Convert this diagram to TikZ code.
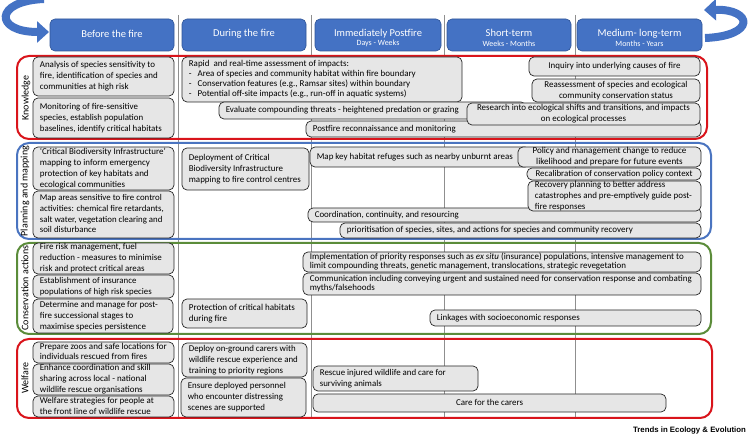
\documentclass[tikz,border=0pt]{standalone}
\usepackage{fontspec}
\usepackage{graphicx}
\setmainfont{Carlito}
\newfontfamily\footfont{Liberation Sans}
\usetikzlibrary{arrows.meta}
\definecolor{hdrblue}{HTML}{4472C4}
\definecolor{hdredge}{HTML}{2F5597}
\definecolor{frred}{HTML}{D9141B}
\definecolor{frblue}{HTML}{4A74C0}
\definecolor{frgreen}{HTML}{5B8C3A}
\definecolor{boxfill}{HTML}{E6E6E6}
\definecolor{sepgray}{HTML}{8F8F8F}
\renewcommand{\arraystretch}{1}
% name, x1, y1, x2, y2, west|center, text, width of the longest line
\newcommand{\bx}[8]{%
 \pgfmathsetmacro{\mybw}{#4-#2}%
 \pgfmathsetmacro{\mybh}{#5-#3}%
 \pgfmathsetmacro{\mycx}{(#2+#4)/2}%
 \pgfmathsetmacro{\mycy}{(#3+#5)/2}%
 \node[box, minimum width=\mybw pt, minimum height=\mybh pt] (#1) at (\mycx,\mycy) {};
 \node[btxt, anchor=#6, al #6] (#1t) at (#1.#6) {\resizebox{#8pt}{!}{\begin{tabular}{@{}\csname tc#6\endcsname@{}}#7\end{tabular}}};}
\newcommand{\tcwest}{l}
\newcommand{\tccenter}{c}
\tikzset{
 box/.style={draw=black!85, fill=boxfill, rounded corners=5pt, line width=0.7pt, inner sep=0pt},
 btxt/.style={inner xsep=0pt, inner ysep=0pt, font=\fontsize{9}{11}\selectfont},
 al west/.style={xshift=7pt},
 al center/.style={},
 hdr/.style={draw=hdredge, fill=hdrblue, rounded corners=5pt, line width=0.6pt, minimum height=32pt},
 hdrtxt/.style={text=white, align=center, inner sep=0pt, font=\fontsize{10.5}{12}\selectfont},
 frame/.style={line width=2pt, rounded corners=12pt},
 rowlab/.style={rotate=90, font=\fontsize{10}{12}\selectfont},
 sepline/.style={draw=sepgray, line width=0.8pt},
 bigarrow/.style={draw=hdrblue, line width=8pt, -{Triangle[length=12pt,width=21pt]}},
}
\begin{document}
\begin{tikzpicture}[x=1pt,y=-1pt]
\useasboundingbox (0,0) rectangle (748,438);
% separators
\foreach \sx in {178,311,444,575} \draw[sepline] (\sx,15) -- (\sx,418);
% curved arrows
\draw[bigarrow] (44,-1) .. controls (-6,1) and (-6,32) .. (49,32);
\draw[bigarrow] (705,38) .. controls (756,36) and (753,9) .. (704,10);
% headers
\node[hdr, minimum width=124pt] (h1) at (112,35) {};
\node[hdr, minimum width=124pt] (h2) at (244,35) {};
\node[hdr, minimum width=126pt] (h3) at (378,35) {};
\node[hdr, minimum width=124pt] (h4) at (509,35) {};
\node[hdr, minimum width=125pt] (h5) at (639.5,35) {};
\node[hdrtxt] (h1t) at (112,34) {Before the fire};
\node[hdrtxt] (h2t) at (244,34) {During the fire};
\node[hdrtxt] (h3t) at (378,38) {Immediately Postfire\\[-2.5pt]{\fontsize{8}{8}\selectfont Days - Weeks}};
\node[hdrtxt] (h4t) at (509,38) {Short-term\\[-2.5pt]{\fontsize{8}{8}\selectfont Weeks - Months}};
\node[hdrtxt] (h5t) at (639.5,38) {Medium- long-term\\[-2.5pt]{\fontsize{8}{8}\selectfont Months - Years}};
% frames
\draw[frame, frred] (17,56) rectangle (707,139);
\draw[frame, frblue] (17,143) rectangle (711,239);
\draw[frame, frgreen] (17,243) rectangle (711,334);
\draw[frame, frred] (17,339) rectangle (712,418);
% row labels
\node[rowlab] (lk) at (26,98) {Knowledge};
\node[rowlab] (lp) at (25,191) {Planning and mapping};
\node[rowlab] (lc) at (25,288) {Conservation actions};
\node[rowlab] (lw) at (25,378) {Welfare};
% Knowledge
\bx{k1}{33}{57}{174}{96}{west}{Analysis of species sensitivity to\\ fire, identification of species and\\ communities at high risk}{118}
\bx{k2}{33}{98}{174}{138}{west}{Monitoring of fire-sensitive\\ species, establish population\\ baselines, identify critical habitats}{122}
\bx{k3}{182}{57}{462}{102}{west}{Rapid\ \ and real-time assessment of impacts:\\[-0.8pt] -\hspace{6pt}Area of species and community habitat within fire boundary\\[-0.8pt] -\hspace{6pt}Conservation features (e.g., Ramsar sites) within boundary\\[-0.8pt] -\hspace{6pt}Potential off-site impacts (e.g., run-off in aquatic systems)}{227}
\bx{k4}{219}{102}{526}{119}{west}{Evaluate compounding threats - heightened predation or grazing}{233}
\bx{k5}{306}{121}{701}{137}{west}{Postfire reconnaissance and monitoring}{143}
\bx{k8}{467}{103}{700}{125}{center}{Research into ecological shifts and transitions, and impacts\\ on ecological processes}{213}
\bx{k6}{529}{57}{700}{76}{center}{Inquiry into underlying causes of fire}{132}
\bx{k7}{532}{79}{700}{102}{center}{Reassessment of species and ecological\\ community conservation status}{143}
% Planning and mapping
\bx{p1}{33}{147}{174}{190}{west}{‘Critical Biodiversity Infrastructure’\\ mapping to inform emergency\\ protection of key habitats and\\ ecological communities}{126}
\bx{p2}{33}{191}{174}{238}{west}{Map areas sensitive to fire control\\ activities: chemical fire retardants,\\ salt water, vegetation clearing and\\ soil disturbance}{124}
\bx{p3}{182}{148}{309}{190}{west}{Deployment of Critical\\ Biodiversity Infrastructure\\ mapping to fire control centres}{112}
\bx{p4}{310}{147}{530}{167}{west}{Map key habitat refuges such as nearby unburnt areas}{196}
\bx{p5}{518}{147}{701}{167}{center}{Policy and management change to reduce\\ likelihood and prepare for future events}{154}
\bx{p6}{527}{168}{701}{180}{center}{Recalibration of conservation policy context}{157}
\bx{p8}{308}{208}{701}{222}{west}{Coordination, continuity, and resourcing}{144}
\bx{p7}{528}{181}{701}{211}{west}{Recovery planning to better address\\ catastrophes and pre-emptively guide post-\\ fire responses}{157}
\bx{p9}{340}{223}{701}{238}{west}{prioritisation of species, sites, and actions for species and community recovery}{286}
% Conservation actions
\bx{c1}{33}{243}{174}{274}{west}{Fire risk management, fuel\\ reduction - measures to minimise\\ risk and protect critical areas}{122}
\bx{c2}{33}{275}{174}{298}{west}{Establishment of insurance\\ populations of high risk species}{112}
\bx{c3}{33}{299}{173}{333}{west}{Determine and manage for post-\\ fire successional stages to\\ maximise species persistence}{118}
\bx{c4}{182}{299}{307}{328}{west}{Protection of critical habitats\\ during fire}{106}
\bx{c5}{303}{252}{701}{272}{west}{Implementation of priority responses such as \textit{ex situ} (insurance) populations, intensive management to\\[-2pt] limit compounding threats, genetic management, translocations, strategic revegetation}{374}
\bx{c6}{303}{273}{701}{295}{west}{Communication including conveying urgent and sustained need for conservation response and combating\\[-2pt] myths/falsehoods}{382}
\bx{c7}{430}{310}{701}{326}{west}{Linkages with socioeconomic responses}{143}
% Welfare
\bx{w1}{33}{342}{174}{363}{west}{Prepare zoos and safe locations for\\[-0.5pt] individuals rescued from fires}{127}
\bx{w2}{33}{364}{174}{395}{west}{Enhance coordination and skill\\ sharing across local - national\\ wildlife rescue organisations}{111}
\bx{w3}{33}{396}{174}{417}{west}{Welfare strategies for people at\\ the front line of wildlife rescue}{114}
\bx{w4}{182}{343}{307}{377}{west}{Deploy on-ground carers with\\ wildlife rescue experience and\\ training to priority regions}{109}
\bx{w5}{181}{378}{306}{417}{west}{Ensure deployed personnel\\ who encounter distressing\\ scenes are supported}{98}
\bx{w6}{313}{366}{478}{391}{west}{Rescue injured wildlife and care for\\ surviving animals}{126}
\bx{w7}{313}{394}{666}{412}{center}{Care for the carers}{67}
% footer
\node[anchor=east, inner sep=0pt, font=\footfont\bfseries\fontsize{7.8}{9}\selectfont] (ft) at (746,431) {Trends in Ecology \& Evolution};
\end{tikzpicture}
\end{document}
